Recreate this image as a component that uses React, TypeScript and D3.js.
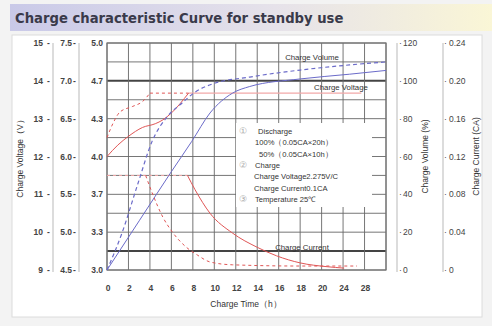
import * as d3 from "d3";

// hours on the x axis; the last label pair is printed oddly in the original
const timeTicks = [0, 2, 4, 6, 8, 10, 12, 14, 16, 18, 20, 22, 24];
const timeLabels = ["0", "2", "4", "6", "8", "10", "12", "14", "16", "18", "20", "24", "28"];

// three stacked voltage axes (12V, 6V, per-cell)
const voltLabels12 = ["9", "10", "11", "12", "13", "14", "15"];
const voltLabels6 = ["4.5", "5.0", "5.5", "6.0", "6.5", "7.0", "7.5"];
const voltCell = [3.0, 3.3, 3.7, 4.0, 4.3, 4.7, 5.0];
const volumeTicks = [0, 20, 40, 60, 80, 100, 120];
const currentTicks = [0, 0.04, 0.08, 0.12, 0.16, 0.2, 0.24];

type P = [number, number];

const voltage100: P[] = [[0, 4.0], [1, 4.09], [2, 4.16], [3.3, 4.23], [4.5, 4.26], [5.2, 4.29], [6, 4.36], [7.6, 4.57]];
const voltageFloat: P[] = [[7.6, 4.57], [23.7, 4.57]];
const voltage50: P[] = [[0, 4.15], [0.6, 4.27], [1.2, 4.37], [2.4, 4.43], [3.3, 4.48], [4.0, 4.57]];
const voltage50Float: P[] = [[4.0, 4.57], [7.6, 4.57]];

const volume100: P[] = [[0, 0], [3, 26], [6, 52], [7.9, 68], [9.6, 83], [11.7, 93.5], [13.3, 97], [18, 101], [22.6, 103.5], [26, 105.5]];
const volume50: P[] = [[0, 0], [1.4, 19.6], [2.9, 46], [4.2, 68], [5.6, 81], [7, 88.3], [8.2, 94], [9.9, 98.5], [13.3, 102], [18, 105.7], [22.6, 108.4], [26, 110]];

const currentFlat: P[] = [[0, 0.1], [7.5, 0.1]];
const current100: P[] = [[7.5, 0.1], [8.2, 0.085], [9.6, 0.06], [11.7, 0.039], [14, 0.024], [15.8, 0.015], [18, 0.0075], [20.5, 0.0035], [22.1, 0.002]];
const current50: P[] = [[3.6, 0.1], [4.3, 0.079], [5.2, 0.056], [6.1, 0.04], [7.4, 0.024], [8.4, 0.016], [9.6, 0.0085], [11.7, 0.0055], [18, 0.0042], [23.3, 0.0042]];

const legendLines = [
  { mark: "①", text: "Discharge", dx: 18 },
  { mark: "", text: "100%（0.05CA×20h）", dx: 15 },
  { mark: "", text: "50%（0.05CA×10h）", dx: 19 },
  { mark: "②", text: "Charge", dx: 15 },
  { mark: "", text: "Charge Voltage2.275V/C", dx: 14 },
  { mark: "", text: "Charge Current0.1CA", dx: 14 },
  { mark: "③", text: "Temperature 25℃", dx: 15 },
];

const W = 492;
const H = 326;
const left = 107;
const right = 386;
const top = 43;
const bottom = 270;

export default function App() {
  const x = d3.scaleLinear().domain([0, 26]).range([left, right]);
  const row = d3.scaleLinear().domain([0, 12]).range([bottom, top]);
  const yVolt = d3.scaleLinear().domain(voltCell).range(voltCell.map((_, i) => row(i * 2)));
  const yVol = d3.scaleLinear().domain([0, 120]).range([bottom, top]);
  const yCur = d3.scaleLinear().domain([0, 0.24]).range([bottom, top]);

  const mk = (y: d3.ScaleLinear<number, number>) =>
    d3.line<P>().x((d) => x(d[0])).y((d) => y(d[1])).curve(d3.curveMonotoneX);
  const lv = mk(yVolt);
  const lo = mk(yVol);
  const lc = mk(yCur);

  const red = "#e05656";
  const pink = "#f2a8a8";
  const blue = "#6b6bc9";
  const grid = "#666";
  const font = "Liberation Sans, Arial, sans-serif";
  const tickFill = "#444";

  return (
    <svg width={W} height={H} style={{ position: "absolute", left: 0, top: 0 }} fontFamily={font}>
      <defs>
        <linearGradient id="titleGrad" x1="0" x2="1" y1="0" y2="0">
          <stop offset="0" stopColor="#c9c9e8" />
          <stop offset="0.55" stopColor="#e6e2ea" />
          <stop offset="1" stopColor="#faf6d6" />
        </linearGradient>
      </defs>
      <rect width={W} height={H} fill="#f3f3f3" />
      <rect x={10} y={4} width={482} height={27} fill="url(#titleGrad)" />
      <text x={15} y={23} fontSize={13.2} fontWeight="bold" fill="#3a3a4a" fontFamily="DejaVu Sans, sans-serif">
        Charge characteristic Curve for standby use
      </text>
      <rect x={12} y={35} width={470} height={282} fill="#fff" stroke="#dcdcdc" />

      {/* grid */}
      {d3.range(0, 13).map((i) => (
        <line key={"h" + i} x1={left} x2={right} y1={row(i)} y2={row(i)}
          stroke={i === 10 || i === 1 ? "#444" : grid} strokeWidth={i === 10 || i === 1 ? 2 : 0.9} />
      ))}
      {d3.range(0, 28, 2).map((t) => (
        <line key={"v" + t} x1={x(t)} x2={x(t)} y1={top} y2={bottom} stroke={grid} strokeWidth={0.9} />
      ))}
      <rect x={left} y={top} width={right - left} height={bottom - top} fill="none" stroke="#777" strokeWidth={1.2} />

      {/* left axes */}
      <line x1={53} x2={53} y1={top} y2={bottom + 2} stroke="#d0d0d0" strokeWidth={1.5} />
      <line x1={79} x2={79} y1={top} y2={bottom + 2} stroke="#d0d0d0" strokeWidth={1.5} />
      {voltCell.map((v, i) => (
        <g key={"vl" + i} fontSize={8.5} fontWeight="bold" fill={tickFill}>
          <text x={43} y={row(i * 2) + 3} textAnchor="end">{voltLabels12[i]}</text>
          <text x={47} y={row(i * 2) + 3}>-</text>
          <text x={72} y={row(i * 2) + 3} textAnchor="end">{voltLabels6[i]}</text>
          <text x={73} y={row(i * 2) + 3}>-</text>
          <text x={103} y={row(i * 2) + 3} textAnchor="end">{v.toFixed(1)}</text>
        </g>
      ))}
      <text transform={`translate(23,${(top + bottom) / 2}) rotate(-90)`} textAnchor="middle" fontSize={8.5} fill="#333">
        Charge Voltage（V）
      </text>

      {/* right axes */}
      <line x1={397} x2={397} y1={top} y2={bottom + 2} stroke="#d0d0d0" strokeWidth={1.5} />
      <line x1={443} x2={443} y1={top} y2={bottom + 2} stroke="#d0d0d0" strokeWidth={1.5} />
      {volumeTicks.map((v) => (
        <g key={"vo" + v} fontSize={8.5} fill={tickFill}>
          <text x={399} y={yVol(v) + 3}>·</text>
          <text x={403} y={yVol(v) + 3}>{v}</text>
        </g>
      ))}
      {currentTicks.map((v) => (
        <g key={"cu" + v} fontSize={8.5} fill={tickFill}>
          <text x={444} y={yCur(v) + 3}>·</text>
          <text x={449} y={yCur(v) + 3}>{v === 0 ? "0" : v.toFixed(2)}</text>
        </g>
      ))}
      <text transform={`translate(428,${(top + bottom) / 2}) rotate(-90)`} textAnchor="middle" fontSize={8.5} fill="#333">
        Charge Volume (%)
      </text>
      <text transform={`translate(479,${(top + bottom) / 2}) rotate(-90)`} textAnchor="middle" fontSize={8.5} fill="#333">
        Charge Current (CA)
      </text>

      {/* bottom axis */}
      {timeTicks.map((t, i) => (
        <text key={"t" + t} x={x(t) + 1} y={291} textAnchor="middle" fontSize={8.5} fontWeight="bold" fill={tickFill}>
          {timeLabels[i]}
        </text>
      ))}
      <text x={246} y={307} textAnchor="middle" fontSize={8.5} fill="#333">Charge Time（h）</text>

      {/* legend box */}
      <rect x={236} y={123} width={136} height={84} fill="#fff" />
      {legendLines.map((l, i) => (
        <g key={"lg" + i} fontSize={7.6} fill="#333">
          {l.mark && <text x={239} y={134 + i * 11.3} fontSize={9} fill="#aaa">{l.mark}</text>}
          <text x={240 + l.dx} y={134 + i * 11.3}>{l.text}</text>
        </g>
      ))}

      {/* curve labels */}
      <text x={312} y={60} textAnchor="middle" fontSize={7.8} fill="#333">Charge Volume</text>
      <text x={341} y={90} textAnchor="middle" fontSize={7.8} fill="#333">Charge Voltage</text>
      <text x={302} y={250} textAnchor="middle" fontSize={7.8} fill="#333">Charge Current</text>

      {/* curves */}
      <path d={lc(currentFlat) ?? ""} fill="none" stroke={pink} strokeWidth={1} strokeDasharray="3,3" />
      <path d={lv(voltageFloat) ?? ""} fill="none" stroke={pink} strokeWidth={1.2} />
      <path d={lv(voltage50Float) ?? ""} fill="none" stroke={red} strokeWidth={1} strokeDasharray="3,3" />
      <path d={lv(voltage100) ?? ""} fill="none" stroke={red} strokeWidth={1} />
      <path d={lv(voltage50) ?? ""} fill="none" stroke={red} strokeWidth={1} strokeDasharray="3,3" />
      <path d={lo(volume100) ?? ""} fill="none" stroke={blue} strokeWidth={1} />
      <path d={lo(volume50) ?? ""} fill="none" stroke={blue} strokeWidth={1.2} strokeDasharray="4,3" />
      <path d={lc(current100) ?? ""} fill="none" stroke={red} strokeWidth={1} />
      <path d={lc(current50) ?? ""} fill="none" stroke={red} strokeWidth={1} strokeDasharray="3,3" />
    </svg>
  );
}
